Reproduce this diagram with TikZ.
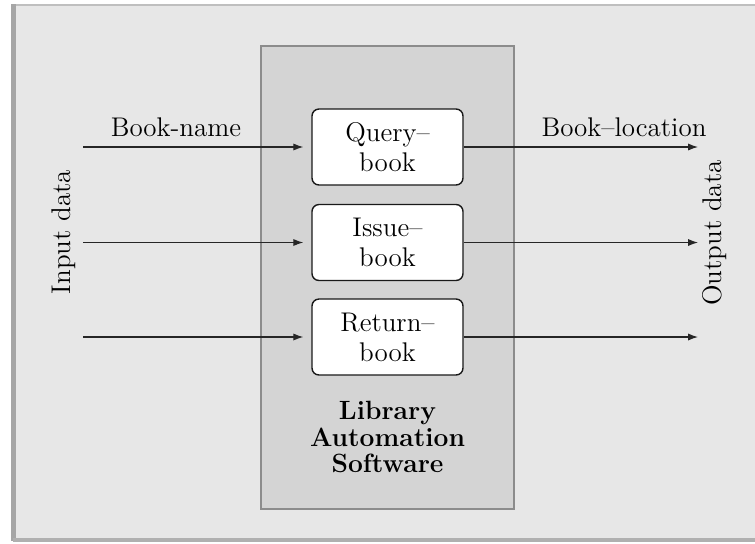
\documentclass[tikz,border=0pt]{standalone}
\usetikzlibrary{arrows.meta}
\begin{document}
\begin{tikzpicture}[x=0.5pt,y=-0.5pt,
  txt/.style={font=\fontsize{13.5}{15}\selectfont, text=black, inner sep=0pt},
  proc/.style={txt, draw=black!90, fill=white, rounded corners=3.5pt,
    minimum width=75.5pt, minimum height=38pt, align=center, line width=0.7pt},
  sysbox/.style={draw=gray!90, fill=gray!34, line width=0.6pt,
    minimum width=126.5pt, minimum height=231.5pt, inner sep=0pt},
  flow/.style={-{Latex[length=5pt,width=3.6pt]}, line width=0.55pt, draw=black!85}]
\useasboundingbox (0,0) rectangle (755,543);
\fill[white] (0,0) rectangle (755,543);
% outer frame
\fill[gray!19] (13,5) rectangle (760,540);
\draw[gray!50, line width=1pt] (13,5) -- (760,5);
\draw[gray!70, line width=2.5pt] (13,4) -- (13,541);
\draw[gray!62, line width=1.6pt] (13,540) -- (760,540);
% system box
\node[sysbox] (sys) at (387.5,277.5) {};
% processes
\node[proc] (q) at (387.5,147) {Query--\\book};
\node[proc] (i) at (387.5,242.5) {Issue--\\book};
\node[proc] (r) at (387.5,337) {Return--\\book};
\node[txt, font=\fontsize{13.2}{13.25}\selectfont\bfseries, align=center] (lib) at (387.5,437) {Library\\Automation\\Software};
% inputs
\coordinate (in1) at (83,147);
\coordinate (in2) at (83,242.5);
\coordinate (in3) at (83,337);
\draw[flow, shorten >=4pt] (in1) -- (q.west);
\draw[flow, shorten >=4pt] (in2) -- (i.west);
\draw[flow, shorten >=4pt] (in3) -- (r.west);
% outputs
\coordinate (o1) at (698,147);
\coordinate (o2) at (698,242.5);
\coordinate (o3) at (698,337);
\draw[flow] (q.east) -- (o1);
\draw[flow] (i.east) -- (o2);
\draw[flow] (r.east) -- (o3);
% labels
\node[txt] (bn) at (176,127) {Book-name};
\node[txt] (bl) at (624,127) {Book--location};
\node[txt, rotate=90] (ind) at (64,232) {Input data};
\node[txt, rotate=90] (outd) at (715,233) {Output data};
\end{tikzpicture}
\end{document}
